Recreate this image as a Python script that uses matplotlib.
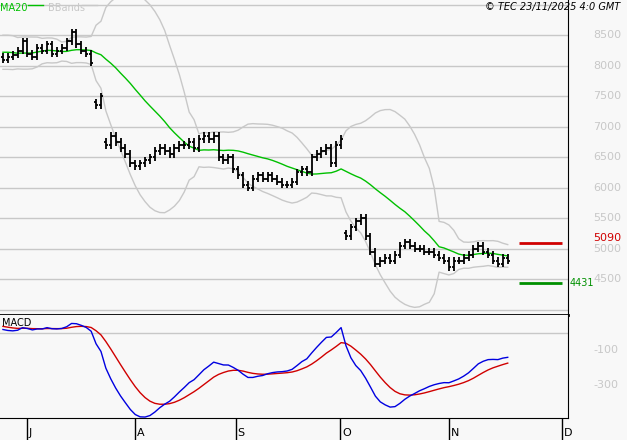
import numpy as np
import matplotlib
matplotlib.use("Agg")
import matplotlib.pyplot as plt

history = [8050, 8150, 8300, 8450, 8350, 8200, 8100, 8000, 7950, 8100,
           8250, 8400, 8500, 8350, 8200, 8150, 8250, 8300, 8200, 8150]
closes = [8100, 8150, 8180, 8250, 8400, 8200, 8150, 8300, 8250, 8350,
          8200, 8250, 8300, 8400, 8550, 8350, 8250, 8200, 8050,
          7350, 7500,
          6700, 6850, 6750, 6650, 6550, 6400, 6350, 6400, 6450, 6500, 6600, 6650,
          6600, 6550, 6650, 6700, 6700, 6750, 6650, 6800, 6850, 6800, 6850,
          6500, 6450, 6500, 6300, 6200, 6050, 6000, 6150, 6200, 6150, 6200, 6150,
          6100, 6050, 6050, 6100, 6250, 6300, 6250, 6500, 6550, 6600, 6650, 6400,
          6700, 6800,
          5200, 5350, 5450, 5500, 5200, 4950, 4750, 4800, 4850, 4800, 4900, 5050,
          5100, 5050, 5000, 5000, 4950, 4950, 4900, 4850, 4800, 4700, 4800, 4800,
          4850, 4900, 5000, 5050, 4950, 4900, 4800, 4750, 4850, 4800]
gap_days = [19, 21, 70]
bar_spread = 60
resistance = 5090
support = 4431
month_labels = ["J", "A", "S", "O", "N", "D"]
month_pos = [4.9, 27, 47.5, 68.8, 91, 114]
price_ticks = [4500, 5000, 5500, 6000, 6500, 7000, 7500, 8000, 8500]
macd_ticks = [-100, -300]

allc = np.array(history + closes, float)
n0 = len(history)
N = len(closes)
x = np.arange(N)

ma = np.array([allc[i-19:i+1].mean() for i in range(n0, n0+N)])
sd = np.array([allc[i-19:i+1].std() for i in range(n0, n0+N)])
up, lo = ma + 2*sd, ma - 2*sd

def ema(a, s):
    k = 2/(s+1); out = [a[0]]
    for v in a[1:]:
        out.append(out[-1] + k*(v-out[-1]))
    return np.array(out)
macd = ema(allc, 12) - ema(allc, 26)
sig = ema(macd, 9)
macd, sig = macd[n0:], sig[n0:]

c = np.array(closes, float)
o = np.r_[allc[n0-1], c[:-1]]
for g in gap_days:
    o[g] = c[g] + 50
hi = np.maximum(o, c) + bar_spread
lo_b = np.minimum(o, c) - bar_spread

W, H = 627, 440
fig = plt.figure(figsize=(W/100, H/100), dpi=100, facecolor="#f8f8f8")
axw = 568/W
ax = fig.add_axes([0, 1-315/H, axw, 315/H], facecolor="#f8f8f8")
ax2 = fig.add_axes([0, 1-418/H, axw, 103/H], facecolor="#f8f8f8")
xl = (-0.6, 115.3)

for t in range(4000, 9001, 500):
    ax.axhline(t, color="#c8c8c8", lw=1, zorder=0)
ax.plot(x, up, color="#c8c8c8", lw=1)
ax.plot(x, lo, color="#c8c8c8", lw=1)
ax.plot(x, ma, color="#00c000", lw=1)
ax.vlines(x, lo_b, hi, color="black", lw=1.3)
ax.hlines(o, x-0.45, x, color="black", lw=1.3)
ax.hlines(c, x, x+0.45, color="black", lw=1.3)
ax.hlines(resistance, 105.3, 114, color="#d00000", lw=2)
ax.hlines(support, 105.3, 114, color="#009000", lw=2)
ax.set_xlim(*xl); ax.set_ylim(3910, 9080)
ax.set_xticks([]); ax.set_yticks([])
for s in ax.spines.values(): s.set_visible(False)
ax.spines["right"].set_visible(True)
ax.spines["bottom"].set_visible(True); ax.spines["bottom"].set_linewidth(2)
for t in price_ticks:
    ax.text(1.044, t, str(t), transform=ax.get_yaxis_transform(), color="#c8c8c8",
            fontsize=8, va="center", ha="left")
ax.text(1.044, resistance + 90, str(resistance), transform=ax.get_yaxis_transform(),
        color="#d00000", fontsize=8, va="center", ha="left")
ax.text(1.002, support, str(support), transform=ax.get_yaxis_transform(),
        color="#009000", fontsize=7, va="center", ha="left")
ax.text(0.0, 0.99, "MA20", color="#00c000", fontsize=7, transform=ax.transAxes, va="top")
ax.plot([0.05, 0.075], [0.985, 0.985], transform=ax.transAxes, color="#00c000", lw=1)
ax.text(0.085, 0.99, "BBands", color="#c8c8c8", fontsize=7, transform=ax.transAxes, va="top")
ax.plot([0.145, 0.17], [0.985, 0.985], transform=ax.transAxes, color="#c8c8c8", lw=1)
fig.text(0.99, 0.995, "© TEC 23/11/2025 4:0 GMT", ha="right", va="top",
         fontsize=7, style="italic")

ax2.axhline(0, color="#c8c8c8", lw=1, zorder=0)
ax2.plot(x, sig, color="#d00000", lw=1)
ax2.plot(x, macd, color="#0000e0", lw=1)
ax2.set_xlim(*xl); ax2.set_ylim(-495, 105)
ax2.set_yticks([])
for s in ax2.spines.values(): s.set_visible(False)
ax2.spines["right"].set_visible(True)
ax2.spines["bottom"].set_visible(True)
ax2.set_xticks(month_pos)
ax2.set_xticklabels([""]*len(month_pos))
ax2.tick_params(axis="x", direction="out", length=16, width=1, color="black")
for p, l in zip(month_pos, month_labels):
    ax2.text(p + 0.4, -0.1, l, transform=ax2.get_xaxis_transform(), fontsize=8,
             va="top", ha="left")
for t in macd_ticks:
    ax2.text(1.044, t, str(t), transform=ax2.get_yaxis_transform(), color="#c8c8c8",
             fontsize=8, va="center", ha="left")
ax2.text(0.003, 0.97, "MACD", fontsize=7, transform=ax2.transAxes, va="top")

fig.savefig("out.png", dpi=100, facecolor=fig.get_facecolor())
